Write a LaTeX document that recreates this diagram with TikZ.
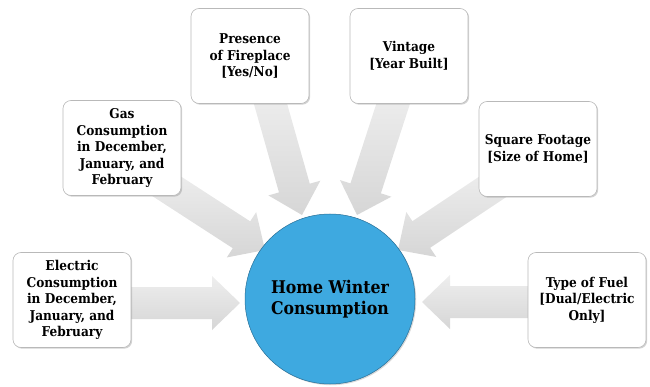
\documentclass[tikz,border=0pt]{standalone}
\usepackage{fontspec}
\setmainfont{DejaVu Serif Condensed}
\usetikzlibrary{calc,shadows}
\definecolor{hubblue}{RGB}{62,169,224}
\definecolor{hubedge}{RGB}{40,110,150}
\definecolor{arrowlight}{RGB}{238,238,238}
\definecolor{arrowdark}{RGB}{214,214,214}
\tikzset{
  box/.style={rounded corners=8pt, draw=gray!55, line width=0.6pt, fill=white,
    minimum width=118pt, minimum height=95pt, align=center, inner sep=2pt,
    font=\bfseries\fontsize{13.5}{16.5}\selectfont,
    drop shadow={opacity=0.35, shadow xshift=1.2pt, shadow yshift=-1.2pt}},
  hub/.style={circle, fill=hubblue, draw=hubedge, line width=0.5pt,
    minimum size=170pt, align=center, inner sep=0pt,
    font=\bfseries\fontsize{17.5}{21}\selectfont,
    drop shadow={opacity=0.3, shadow xshift=1.2pt, shadow yshift=-1.2pt}},
  arrowstyle/.style={top color=arrowlight, bottom color=arrowdark}
}
\newcommand\blockarrow[3]{%
  \coordinate (#3h) at ($(#2)!28pt!(#1)$);
  \shade[arrowstyle] ($(#1)!16pt!90:(#2)$) -- ($(#3h)!16pt!90:(#2)$)
    -- ($(#3h)!27pt!90:(#2)$) -- (#2) -- ($(#3h)!27pt!-90:(#2)$)
    -- ($(#3h)!16pt!-90:(#2)$) -- ($(#1)!16pt!-90:(#2)$) -- cycle;}
\begin{document}
\begin{tikzpicture}[x=1pt,y=-1pt]
\useasboundingbox (0,0) rectangle (650,387);
% arrow end points
\coordinate (t1) at (120,303); \coordinate (h1) at (240,303);
\coordinate (t2) at (160,182); \coordinate (h2) at (265,250);
\coordinate (t3) at (268,95);  \coordinate (h3) at (302,215);
\coordinate (t4) at (396,95);  \coordinate (h4) at (357,215);
\coordinate (t5) at (500,182); \coordinate (h5) at (398,250);
\coordinate (t6) at (540,302); \coordinate (h6) at (422,302);
\blockarrow{t1}{h1}{a1}
\blockarrow{t2}{h2}{a2}
\blockarrow{t3}{h3}{a3}
\blockarrow{t4}{h4}{a4}
\blockarrow{t5}{h5}{a5}
\blockarrow{t6}{h6}{a6}
\node[hub] (hub) at (330,299) {Home Winter\\Consumption};
\node[box] (elec) at (72,300) {Electric\\Consumption\\in December,\\January, and\\February};
\node[box] (gas) at (122,148) {Gas\\Consumption\\in December,\\January, and\\February};
\node[box] (fire) at (250,56) {Presence\\of Fireplace\\{[Yes/No]}};
\node[box] (vint) at (409,56) {Vintage\\{[Year Built]}};
\node[box] (sq) at (538,149) {Square Footage\\{[Size of Home]}};
\node[box] (fuel) at (587,300) {Type of Fuel\\{[Dual/Electric}\\Only]};
\end{tikzpicture}
\end{document}
